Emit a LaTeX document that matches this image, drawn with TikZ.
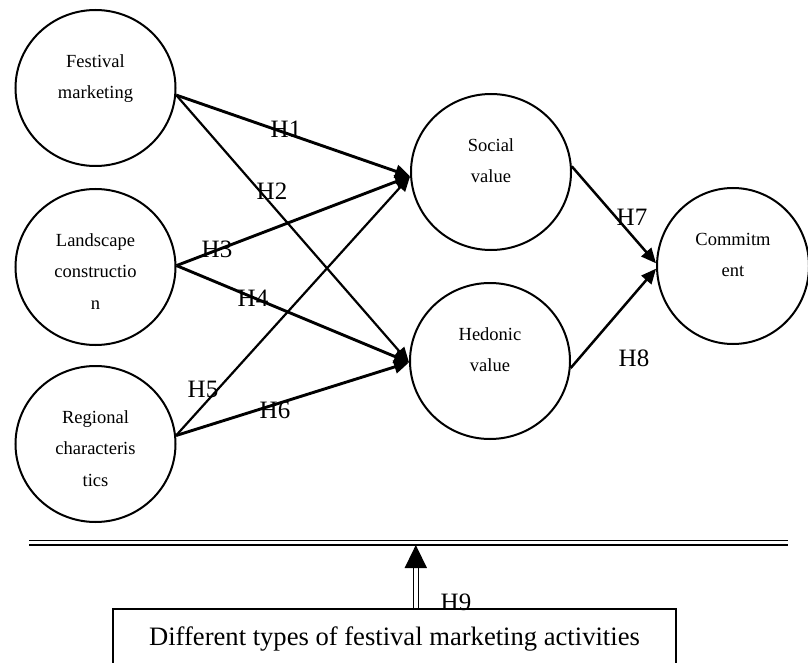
\documentclass[tikz,border=0pt]{standalone}
\usepackage{fontspec}
\setmainfont{Liberation Serif}
\usetikzlibrary{arrows.meta,positioning,shapes.geometric}

\begin{document}
\begin{tikzpicture}[x=1pt,y=-1pt,
  var/.style={ellipse,draw,line width=2pt,minimum width=160pt,minimum height=156pt,inner sep=0pt},
  vartext/.style={font=\fontsize{18.5}{31.5}\selectfont,align=center,inner sep=0pt,anchor=north},
  hyp/.style={font=\fontsize{25}{28}\selectfont,inner sep=0pt},
  thk/.style={line width=2.9pt,-{Triangle[length=15pt,width=13pt]}},
  thn/.style={thk,line width=2.2pt},
  mid/.style={thk,line width=2.5pt},
  actbox/.style={draw,line width=2pt,minimum width=563pt,minimum height=60pt,inner sep=0pt,font=\fontsize{26.6}{30}\selectfont}]
  \useasboundingbox (0,0) rectangle (808,663);
  \clip (0,0) rectangle (808,663);

  % constructs
  \node[var] (fest) at (95.5,88) {};
  \node[var] (land) at (95.5,267) {};
  \node[var] (reg) at (95.5,444) {};
  \node[var] (soc) at (491,172) {};
  \node[var] (hed) at (490,361) {};
  \node[var,minimum width=152pt] (com) at (733,266) {};

  \node[vartext] (festT) at ([yshift=43pt]fest.center) {\strut Festival\\\strut marketing};
  \node[vartext] (landT) at ([yshift=43pt]land.center) {\strut Landscape\\\strut constructio\\\strut n};
  \node[vartext] (regT) at ([yshift=43pt]reg.center) {\strut Regional\\\strut characteris\\\strut tics};
  \node[vartext] (socT) at ([yshift=43pt]soc.center) {\strut Social\\\strut value};
  \node[vartext] (hedT) at ([yshift=43pt]hed.center) {\strut Hedonic\\\strut value};
  \node[vartext] (comT) at ([yshift=43pt]com.center) {\strut Commitm\\\strut ent};

  % paths
  \draw[thk] (fest.-5) -- (soc.183);
  \draw[thn] (fest.-5) -- (hed.181);
  \draw[thk] (land.1) -- (soc.183);
  \draw[thk] (land.1) -- (hed.181);
  \draw[thn] (reg.6) -- (soc.183);
  \draw[thk] (reg.6) -- (hed.181);
  \draw[mid] (soc.4) -- (com.178);
  \draw[mid] (hed.-5) -- (com.182);

  \node[hyp] (h1) at (286,129) {H1};
  \node[hyp] (h2) at (272,191) {H2};
  \node[hyp] (h3) at (217,249) {H3};
  \node[hyp] (h4) at (253,298) {H4};
  \node[hyp] (h5) at (203,389) {H5};
  \node[hyp] (h6) at (275,410) {H6};
  \node[hyp] (h7) at (632,217) {H7};
  \node[hyp] (h8) at (634,358) {H8};

  % moderator
  \coordinate (barL) at (29,542.8);
  \coordinate (barR) at (788,542.8);
  \draw[double,double distance=2.8pt,line width=1.9pt] (barL) -- (barR);
  \node[actbox] (acts) at (394.5,639) {Different types of festival marketing activities};
  \coordinate (barhit) at (415.8,545);
  \draw[double,double distance=3.4pt,line width=1.5pt,-{Triangle[length=23pt,width=22pt]}] (acts.north -| barhit) -- (barhit);
  \node[hyp] (h9) at (456,602) {H9};
\end{tikzpicture}
\end{document}
